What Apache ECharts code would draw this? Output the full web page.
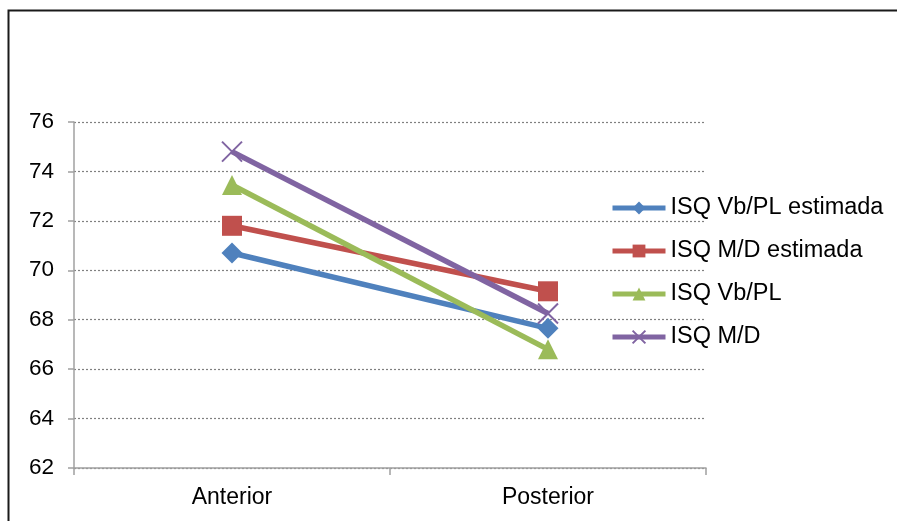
<!DOCTYPE html>
<html>
<head>
<meta charset="utf-8">
<script src="https://cdn.jsdelivr.net/npm/echarts@6/dist/echarts.min.js"></script>
<style>
  html, body { margin: 0; padding: 0; background: #fff; }
  #chart { width: 897px; height: 521px; }
</style>
</head>
<body>
<div id="chart"></div>
<script>
// Implant stability quotient, anterior vs posterior
const categories = ['Anterior', 'Posterior'];
const seriesNames = ['ISQ Vb/PL estimada', 'ISQ M/D estimada', 'ISQ Vb/PL', 'ISQ M/D'];
const vbplEstimada = [70.7, 67.65];
const mdEstimada = [71.8, 69.15];
const vbpl = [73.45, 66.8];
const md = [74.8, 68.25];
const yTicks = [62, 64, 66, 68, 70, 72, 74, 76];

const colors = ['#4F81BD', '#C0504D', '#9BBB59', '#8064A2'];
const FONT = '"Liberation Sans", Arial, sans-serif';

function lineSeries(name, data, color, symbol, size, extraItem) {
  return {
    name: name,
    type: 'line',
    data: data,
    symbol: symbol,
    symbolSize: size,
    lineStyle: { color: color, width: 5.5 },
    itemStyle: Object.assign({ color: color }, extraItem || {}),
    emphasis: { disabled: true },
    animation: false
  };
}

const chart = echarts.init(document.getElementById('chart'), null, { renderer: 'canvas' });
chart.setOption({
  animation: false,
  color: colors,
  grid: { left: 74, right: 191, top: 122, bottom: 53, containLabel: false },
  xAxis: {
    type: 'category',
    data: categories,
    boundaryGap: true,
    axisLine: { show: true, lineStyle: { color: '#a0a0a0', width: 1.5 } },
    axisTick: { show: true, interval: 0, length: 7, lineStyle: { color: '#a0a0a0', width: 1.5 } },
    axisLabel: { color: '#000', fontFamily: FONT, fontSize: 23, margin: 18 },
    splitLine: { show: false }
  },
  yAxis: {
    type: 'value',
    min: yTicks[0],
    max: yTicks[yTicks.length - 1],
    interval: 2,
    axisLine: { show: true, lineStyle: { color: '#a0a0a0', width: 1.5 } },
    axisTick: { show: true, length: 6, lineStyle: { color: '#a0a0a0', width: 1.5 } },
    axisLabel: { color: '#000', fontFamily: FONT, fontSize: 22.5, margin: 20 },
    splitLine: { show: true, lineStyle: { color: '#808080', width: 1.2, type: [2, 2] } }
  },
  legend: {
    orient: 'vertical',
    left: 610,
    top: 196,
    padding: 0,
    itemWidth: 53,
    itemHeight: 16,
    itemGap: 19,
    lineStyle: { width: 5 },
    textStyle: { color: '#000', fontFamily: FONT, fontSize: 23.5 },
    data: seriesNames,
    selectedMode: false
  },
  graphic: [{
    type: 'rect',
    shape: { x: 8.5, y: 10.5, width: 1000, height: 1000 },
    style: { fill: 'none', stroke: '#1a1a1a', lineWidth: 2 },
    silent: true
  }],
  series: [
    lineSeries(seriesNames[0], vbplEstimada, colors[0], 'diamond', 21),
    lineSeries(seriesNames[1], mdEstimada, colors[1], 'rect', 20),
    lineSeries(seriesNames[2], vbpl, colors[2], 'triangle', 20),
    lineSeries(seriesNames[3], md, colors[3], 'path://M0,0L10,10M10,0L0,10', 20,
      { borderColor: colors[3], borderWidth: 2 })
  ]
});
</script>
</body>
</html>
